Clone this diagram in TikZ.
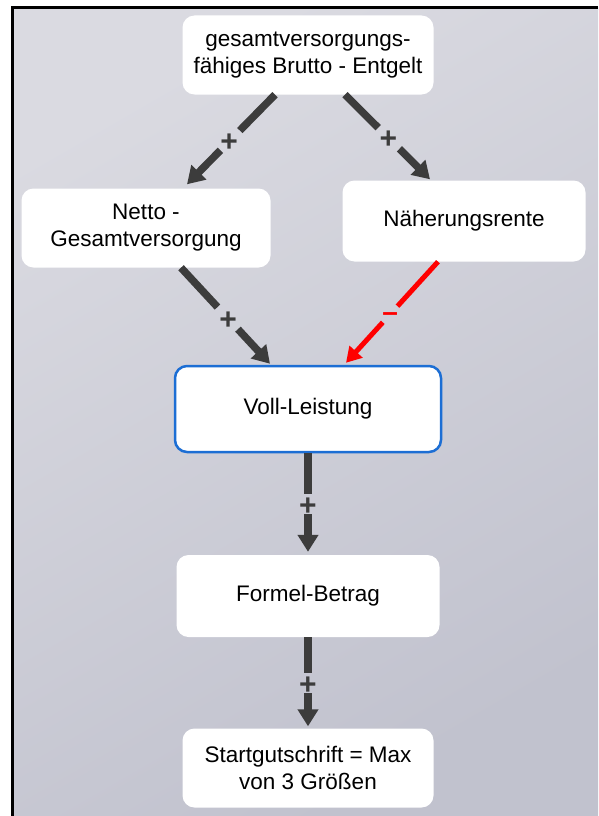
\documentclass[tikz,border=0pt]{standalone}
\usepackage{fontspec}
\setmainfont{Liberation Sans}
\usetikzlibrary{arrows.meta,calc}
\definecolor{bgA}{HTML}{DADAE1}
\definecolor{bgB}{HTML}{C1C2CE}
\definecolor{arr}{HTML}{3C3C3C}
\definecolor{blu}{HTML}{1C6ED4}
\begin{document}
\begin{tikzpicture}[x=1pt,y=-1pt,
  box/.style={fill=white, rounded corners=12pt, align=center, inner sep=0pt,
    font=\fontsize{22.5}{27}\selectfont},
  connline/.style={draw=arr, line width=7.5pt},
  conn/.style={connline, -{Triangle[width=20pt,length=17pt]}},
  negline/.style={draw=red, line width=5pt},
  neg/.style={negline, -{Triangle[width=17pt,length=15pt]}},
  sign/.style={inner sep=0pt, font=\fontsize{30}{30}\selectfont\bfseries, text=arr,
    text height=21pt, text depth=0pt},
  minus/.style={inner sep=0pt, font=\fontsize{28}{28}\selectfont\bfseries, text=red,
    text height=15pt, text depth=0pt}]
\useasboundingbox (0,0) rectangle (598,816);
\fill[white] (0,0) rectangle (598,816);
\shade[top color=bgA, bottom color=bgB, shading angle=30] (13,8) rectangle (598,816);
\draw[line width=3pt] (12.5,816) -- (12.5,7.5) -- (598,7.5);

\node[box, minimum width=251pt, minimum height=79pt] (brutto) at (308,55)
  {gesamtversorgungs-\\fähiges Brutto - Entgelt};
\node[box, minimum width=249pt, minimum height=79pt] (netto) at (146,228)
  {Netto -\\Gesamtversorgung};
\node[box, minimum width=243pt, minimum height=81pt] (naeh) at (464,221)
  {Näherungsrente};
\node[box, draw=blu, line width=2.5pt, minimum width=266pt, minimum height=86pt] (voll) at (308,409)
  {Voll-Leistung};
\node[box, minimum width=263pt, minimum height=82pt] (formel) at (308,596)
  {Formel-Betrag};
\node[box, minimum width=251pt, minimum height=79pt] (start) at (308,768)
  {Startgutschrift = Max\\von 3 Größen};

% connector end points
\coordinate (a1) at ([xshift=-33pt]brutto.south);
\coordinate (b1) at ([xshift=41pt,yshift=4pt]netto.north);
\coordinate (a2) at ([xshift=37pt]brutto.south);
\coordinate (b2) at ([xshift=-34pt,yshift=1pt]naeh.north);
\coordinate (a3) at ([xshift=35pt]netto.south);
\coordinate (b3) at ([xshift=-38pt,yshift=1pt]voll.north);
\coordinate (a4) at ([xshift=-26pt]naeh.south);
\coordinate (b4) at ([xshift=38pt,yshift=2pt]voll.north);
\coordinate (a5) at (voll.south);
\coordinate (b5) at ([yshift=3pt]formel.north);
\coordinate (a6) at (formel.south);
\coordinate (b6) at ([yshift=2pt]start.north);

% brutto -> netto
\draw[connline] (a1) -- ($(a1)!0.40!(b1)$);
\draw[conn] ($(a1)!0.62!(b1)$) -- (b1);
\node[sign] (p1) at ($(a1)!0.52!(b1)$) {+};
% brutto -> naeherungsrente
\draw[connline] (a2) -- ($(a2)!0.39!(b2)$);
\draw[conn] ($(a2)!0.64!(b2)$) -- (b2);
\node[sign] (p2) at ($(a2)!0.51!(b2)$) {+};
% netto -> voll
\draw[connline] (a3) -- ($(a3)!0.41!(b3)$);
\draw[conn] ($(a3)!0.64!(b3)$) -- (b3);
\node[sign] (p3) at ($(a3)!0.53!(b3)$) {+};
% naeherungsrente -> voll (minus)
\draw[negline] (a4) -- ($(a4)!0.44!(b4)$);
\draw[neg] ($(a4)!0.60!(b4)$) -- (b4);
\node[minus] (p4) at ($(a4)!0.52!(b4)$) {–};
% voll -> formel
\draw[connline] (a5) -- ($(a5)!0.41!(b5)$);
\draw[conn] ($(a5)!0.62!(b5)$) -- (b5);
\node[sign] (p5) at ($(a5)!0.52!(b5)$) {+};
% formel -> start
\draw[connline] (a6) -- ($(a6)!0.40!(b6)$);
\draw[conn] ($(a6)!0.63!(b6)$) -- (b6);
\node[sign] (p6) at ($(a6)!0.52!(b6)$) {+};
\end{tikzpicture}
\end{document}
